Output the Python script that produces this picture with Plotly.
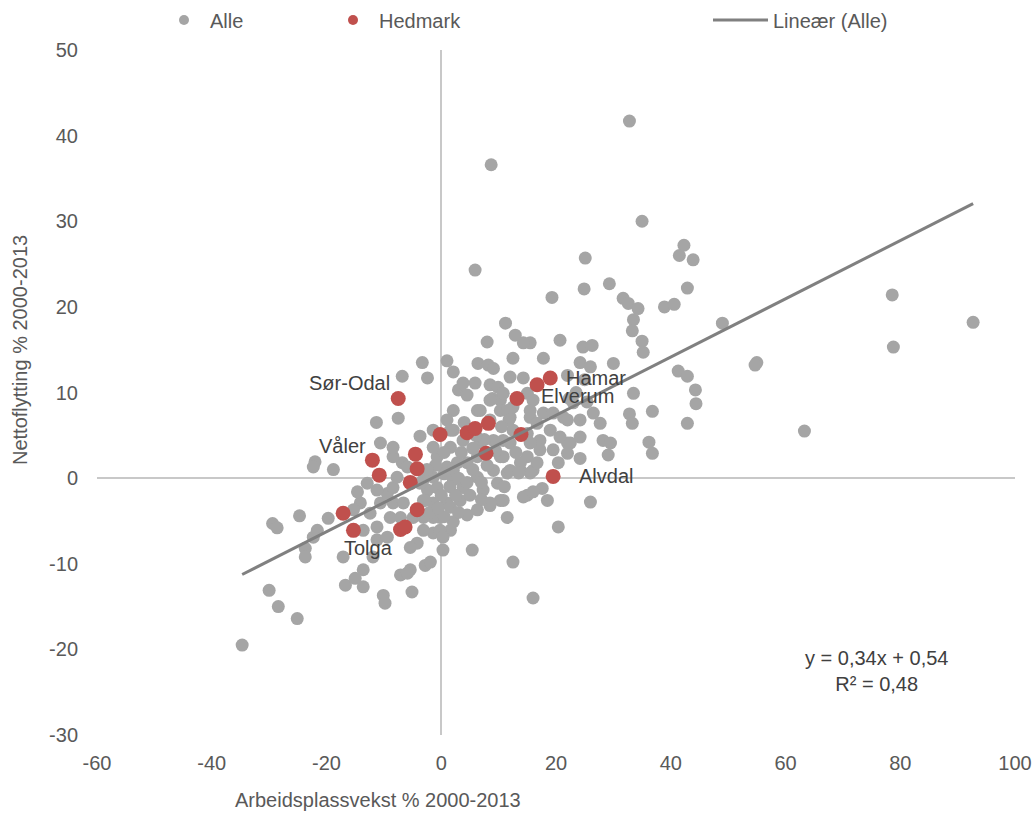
import plotly.graph_objects as go

# ---- Data: all municipalities (gray) ----
alle_x = [
    -34.7, -30.0, -28.4, -25.1, -29.4, -28.6, -24.7, -19.7, -21.6, -22.3, -23.7, -23.7, -17.1,
    -13.6, -16.7, -15.0, -13.6, -10.1, -9.8, -7.1, -5.4, -5.1, -2.8, -1.9, 0.3, -4.2, -5.4,
    -1.4, -3.1, -11.9, -13.6, -11.2, -12.4, -14.1, -15.3, -10.6, -9.4, -8.4, -11.2, -7.7, -6.8,
    -8.4, -5.9, -8.4, -6.6, -8.9, -7.1, -11.2, -9.4, -2.4, -1.4, -3.1, -0.7, -1.4, 1.6, 2.1,
    -3.1, -1.4, -3.1, -0.2, 1.0, 1.6, -0.2, 2.1, 2.8, 1.0, 3.0, -3.3, 1.0, -6.8, -2.4, 2.1,
    -7.5, -11.3, 2.1, -3.7, -10.6, -8.4, -22.0, -22.3, -18.8, -14.6, -12.9,
    8.0, 12.9, 15.5, 20.7, 24.7, 26.3, 6.4, 8.2, 9.1, 12.5, 17.8, 24.2, 26.0, 30.0, 12.0, 14.3,
    3.8, 5.9, 8.5, 9.9, 4.5, 8.9, 10.3, 6.3, 10.3, 12.0, 15.5, 17.8, 21.3, 24.2, 26.5, 27.7,
    23.0, 25.4, 28.2, 29.1, 24.2, 20.4, 19.5, 22.0, 17.2, 15.0, 15.0, 13.8, 16.0, 17.6, 15.0,
    18.5, 26.0, 20.4, 11.5, 12.5, 16.0, 5.4, 0.3, -5.9, 2.1, 4.5, 6.3, 8.5, 10.3, 7.3, 9.8,
    11.5, 9.1, 6.3, 3.8, 3.3, 1.6, 4.5, 2.1, 6.3, 10.3, 12.0, 9.1, 6.8, 3.8, 1.6, -1.4, 12.5,
    12.5, 8.5, -3.7, -0.7, -2.8, -4.9, -1.4,
    32.8, 35.0, 25.1, 42.3, 41.5, 43.9, 19.3, 24.9, 29.3, 31.7, 32.6, 34.3, 38.9, 40.6, 42.9,
    33.5, 33.3, 35.0, 11.2, 49.0, 35.2, 78.6, 92.7, 78.8, 55.0, 54.7, 41.3, 42.9, 44.3, 44.4,
    42.9, 36.8, 36.2, 36.8, 63.3, 33.5, 32.8, 33.3, 29.5, 8.7, 5.9,
    14.3, 10.8, 15.0, 16.0, 8.5, 6.8, 11.5, 15.5, 19.5, 22.0, 11.8, 16.7, 19.0, 20.7, 22.5,
    24.2, 22.0, 17.2, 15.5, 10.8, 10.8, 13.8, 16.7, 12.0, 15.5, 14.3, 16.0, 13.5, 10.8, 8.5,
    22.3, 23.5, 25.0, 22.0,
    0.5, 1.5, 3.0, 4.5, 5.5, 7.0, 8.0, 0.0, 2.5, 5.0, -1.0, 0.5, 3.5, 5.5, 7.5, -2.0, 0.5,
    3.0, -0.5, -2.5, 4.0, 6.0, 1.0, 10.5, 9.5, 13.0, 11.0, 7.0,
]
alle_y = [
    -19.5, -13.1, -15.0, -16.4, -5.3, -5.8, -4.4, -4.7, -6.1, -6.9, -8.2, -9.2, -9.2,
    -10.7, -12.5, -11.7, -12.7, -13.7, -14.6, -11.3, -10.7, -13.3, -10.2, -9.8, -8.4, -7.6, -8.1,
    -6.4, -6.1, -9.2, -6.1, -5.7, -4.1, -2.9, -3.7, -2.9, -1.8, -1.1, -1.4, 0.1, 1.8,
    2.5, 1.3, -2.9, -2.9, -4.6, -4.6, -7.2, -6.9, -1.4, 0.1, -0.2, 2.5, 3.6, 3.6, 5.6,
    -2.6, -2.9, -4.6, -4.6, -2.9, -6.1, -6.1, -0.2, 1.8, 1.3, 10.3, 13.5, 13.7, 11.9, 11.7, 12.4,
    7.0, 6.5, 7.9, 4.9, 4.1, 3.6, 1.9, 1.3, 1.0, -1.6, -0.6,
    15.9, 16.7, 15.8, 16.1, 15.3, 15.5, 13.4, 13.2, 12.8, 14.0, 14.0, 13.5, 13.0, 13.4, 11.8, 11.7,
    11.1, 11.1, 10.9, 10.6, 9.7, 9.3, 9.1, 7.9, 7.9, 7.1, 7.1, 7.6, 7.1, 6.8, 7.6, 6.4,
    8.8, 8.9, 4.4, 2.7, 2.3, 1.8, 3.3, 4.1, 4.4, 5.2, 2.5, 0.9, 0.9, -1.2, -2.0,
    -2.6, -2.8, -5.7, -4.6, -9.8, -14.0, -8.4, -6.9, -11.1, -5.1, -4.3, -3.7, -3.2, -2.6, -1.4, -0.6,
    0.6, 0.9, 0.1, -1.1, -2.6, -3.4, 1.8, 0.9, 2.5, 2.5, 4.1, 4.4, 4.1, 4.4, 5.6, 5.6, 5.6,
    8.3, 6.8, -0.6, -1.1, -2.6, -4.6, -4.6,
    41.7, 30.0, 25.7, 27.2, 26.0, 25.5, 21.1, 22.1, 22.7, 21.0, 20.4, 19.8, 20.0, 20.3, 22.2,
    18.5, 17.2, 16.0, 18.1, 18.1, 14.7, 21.4, 18.2, 15.3, 13.5, 13.2, 12.5, 11.9, 10.3, 8.7,
    6.4, 7.8, 4.2, 2.9, 5.5, 9.9, 7.5, 6.4, 4.1, 36.6, 24.3,
    15.8, 9.9, 9.9, 9.1, 9.1, 7.9, 7.9, 7.9, 7.6, 6.8, 6.8, 6.4, 5.6, 4.8, 4.1,
    4.8, 2.9, 3.3, 4.1, 4.4, 2.5, 1.8, 1.8, 0.9, 0.6, -2.2, -1.6, 0.6, -2.6, -2.9,
    9.3, 10.0, 11.5, 12.0,
    0.5, -1.0, 0.0, -0.5, 1.0, -0.5, 1.5, -2.0, -2.0, -2.0, 1.5, 3.0, 3.0, 3.5, 4.5, -4.0, -4.5,
    -4.0, -3.5, 1.0, 6.5, 5.0, 6.8, 6.0, 3.2, 3.0, -1.0, -2.5,
]

# ---- Data: Hedmark municipalities (red) ----
hed_x = [-7.5, -12.0, -10.8, -4.5, -4.2, -5.4, -0.2, -17.1, -15.3, -7.1, -6.3, -4.2,
         4.5, 5.9, 8.2, 7.8, 13.2, 13.9, 16.7, 19.0, 19.5]
hed_y = [9.3, 2.1, 0.35, 2.8, 1.1, -0.5, 5.1, -4.1, -6.1, -6.0, -5.7, -3.7,
         5.3, 5.8, 6.4, 2.9, 9.3, 5.1, 10.9, 11.7, 0.2]

# labelled Hedmark points: name, x, y
label_names = ["Sør-Odal", "Våler", "Tolga", "Hamar", "Elverum", "Alvdal"]
label_x = [-7.5, -12.0, -15.3, 19.0, 13.2, 19.5]
label_y = [9.3, 2.1, -6.1, 11.7, 9.3, 0.2]

# trend line coefficients (as printed on the chart)
slope = 0.34
intercept = 0.54
eq_text = "y = 0,34x + 0,54<br>R² = 0,48"

x_ticks = [-60, -40, -20, 0, 20, 40, 60, 80, 100]
y_ticks = [-30, -20, -10, 0, 10, 20, 30, 40, 50]

FONT = "Liberation Sans, Arial, sans-serif"
GRAY = "#A5A5A5"
RED = "#C0504D"
TXT = "#404040"
TICK = "#595959"

# full-window figure (page body margin removed below)
W, H = 1033, 816
PL, PR, PT, PB = 97, 1015, 50, 735          # target plot-area edges in window pixels
L, T = PL, PT
R, B = W - PR, H - PB


def px_x(p):
    return (p - PL) / (PR - PL)


def px_y(p):
    return (PB - p) / (PB - PT)


trend_x = [min(alle_x), max(alle_x)]
trend_y = [slope * v + intercept for v in trend_x]

fig = go.Figure()
fig.add_trace(go.Scatter(x=alle_x, y=alle_y, mode="markers", name="Alle",
                         marker=dict(color=GRAY, size=13), showlegend=False))
fig.add_trace(go.Scatter(x=hed_x, y=hed_y, mode="markers", name="Hedmark",
                         marker=dict(color=RED, size=15), showlegend=False))
fig.add_trace(go.Scatter(x=trend_x, y=trend_y, mode="lines", name="Lineær (Alle)",
                         line=dict(color="#808080", width=3), legend="legend3",
                         showlegend=True))
# legend-only entries (smaller symbols as in the reference legend)
fig.add_trace(go.Scatter(x=[None], y=[None], mode="markers", name="Alle",
                         marker=dict(color=GRAY, size=10), legend="legend", showlegend=True))
fig.add_trace(go.Scatter(x=[None], y=[None], mode="markers", name="Hedmark",
                         marker=dict(color=RED, size=10), legend="legend2", showlegend=True))

# label offsets (px): xanchor, xshift, yshift
offsets = {
    "Sør-Odal": ("right", -6, 15),
    "Våler": ("right", -4, 14),
    "Tolga": ("center", 15, -18),
    "Hamar": ("left", 14, 0),
    "Elverum": ("left", 22, 2),
    "Alvdal": ("left", 24, 0),
}
for n, lx, ly in zip(label_names, label_x, label_y):
    xa, xs, ys = offsets[n]
    fig.add_annotation(x=lx, y=ly, text=n, showarrow=False, xanchor=xa, yanchor="middle",
                       xshift=xs, yshift=ys, font=dict(family=FONT, size=20, color=TXT))

fig.add_annotation(x=px_x(876), y=px_y(671), xref="paper", yref="paper",
                   text=eq_text, showarrow=False, align="center", xanchor="center",
                   yanchor="middle", font=dict(family=FONT, size=20, color=TXT))

# axis titles (offset placement as in reference)
fig.add_annotation(x=px_x(378), y=px_y(800), xref="paper", yref="paper",
                   text="Arbeidsplassvekst % 2000-2013", showarrow=False,
                   xanchor="center", yanchor="middle",
                   font=dict(family=FONT, size=20, color=TICK))
fig.add_annotation(x=px_x(20), y=px_y(350), xref="paper", yref="paper",
                   text="Nettoflytting % 2000-2013", showarrow=False, textangle=-90,
                   xanchor="center", yanchor="middle",
                   font=dict(family=FONT, size=20, color=TICK))


def cx(p):
    return p / W


legend_common = dict(orientation="h", yref="container", xref="container",
                     yanchor="middle", y=1 - 20 / H, bgcolor="rgba(0,0,0,0)",
                     font=dict(family=FONT, size=20, color=TICK))
fig.update_layout(
    width=W, height=H,
    margin=dict(l=L, r=R, t=T, b=B, autoexpand=False),
    paper_bgcolor="white", plot_bgcolor="white",
    font=dict(family=FONT, size=20, color=TICK),
    showlegend=True,
    legend=dict(**legend_common, x=cx(158), itemwidth=42),
    legend2=dict(**legend_common, x=cx(327), itemwidth=42),
    legend3=dict(**legend_common, x=cx(708), itemwidth=55),
    xaxis=dict(range=[-60, 100], tickvals=x_ticks, ticktext=[str(v) for v in x_ticks],
               showgrid=False, zeroline=True, zerolinecolor="#C8C8C8", zerolinewidth=1.5,
               showline=False, ticks="", ticklabelstandoff=14, automargin=False,
               tickfont=dict(family=FONT, size=20, color=TICK)),
    yaxis=dict(range=[-30, 50], tickvals=y_ticks, ticktext=[str(v) for v in y_ticks],
               showgrid=False, zeroline=True, zerolinecolor="#C8C8C8", zerolinewidth=1.5,
               showline=False, ticks="", ticklabelstandoff=18, automargin=False,
               tickfont=dict(family=FONT, size=20, color=TICK)),
)

fig.write_html("out.html", config={"displayModeBar": False},
               post_script="document.body.style.margin='0';"
                           "document.body.style.overflow='hidden';")
